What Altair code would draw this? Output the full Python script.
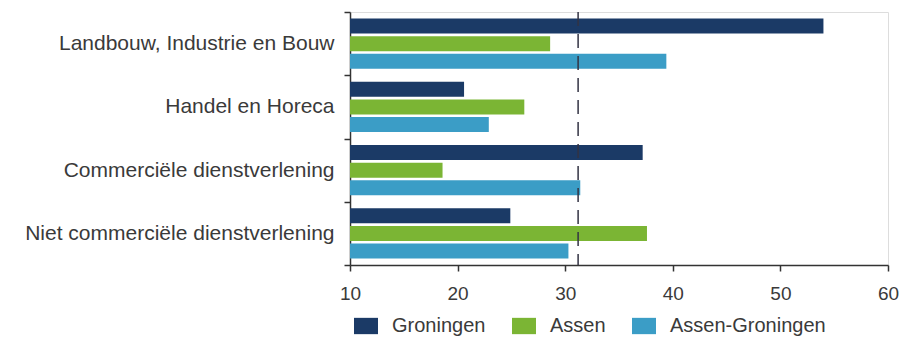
import altair as alt
import pandas as pd

categories = ["Landbouw, Industrie en Bouw", "Handel en Horeca",
              "Commerciële dienstverlening", "Niet commerciële dienstverlening"]
series = ["Groningen", "Assen", "Assen-Groningen"]
groningen = [54.0, 20.6, 37.2, 24.9]
assen = [28.6, 26.2, 18.6, 37.6]
assen_groningen = [39.4, 22.9, 31.4, 30.3]
reference_value = 31.2
colors = ["#1b3a66", "#7bb534", "#3b9dc6"]

rows = []
for i, c in enumerate(categories):
    for s, vals in zip(series, [groningen, assen, assen_groningen]):
        rows.append({"category": c, "series": s, "value": vals[i], "base": 10})
df = pd.DataFrame(rows)

font = "Liberation Sans"
txt = "#3a3a3a"

bars = alt.Chart(df).mark_bar(size=15).encode(
    y=alt.Y("category:N", sort=categories, title=None,
            scale=alt.Scale(paddingInner=0, paddingOuter=0),
            axis=alt.Axis(tickBand="extent", labelFontSize=21, labelFont=font, labelLimit=0,
                          labelColor=txt, domainColor="#333333", tickColor="#333333",
                          tickSize=6, labelPadding=10, domainWidth=1.5, tickWidth=1.5)),
    yOffset=alt.YOffset("series:N", sort=series,
                        scale=alt.Scale(paddingInner=0.14, paddingOuter=0.37)),
    x=alt.X("value:Q", title=None,
            scale=alt.Scale(domain=[10, 60], zero=False, nice=False),
            axis=alt.Axis(values=[10, 20, 30, 40, 50, 60], grid=False, labelFontSize=19,
                          labelFont=font, labelColor=txt, domainColor="#333333",
                          tickColor="#333333", tickSize=6, labelPadding=13,
                          labelFlush=False,
                          domainWidth=1.5, tickWidth=1.5)),
    x2="base:Q",
    color=alt.Color("series:N", sort=series,
                    scale=alt.Scale(domain=series, range=colors),
                    legend=alt.Legend(title=None, orient="none", legendX=4, legendY=302,
                                      direction="horizontal",
                                      symbolType="M-1,-0.68H1V0.68H-1Z",
                                      symbolSize=576, symbolStrokeWidth=0,
                                      labelFontSize=20, labelFont=font, labelColor=txt,
                                      labelOffset=14, columnPadding=26)),
)

rule = alt.Chart(pd.DataFrame({"v": [reference_value]})).mark_rule(
    color="#333344", strokeDash=[14, 8], strokeWidth=1.5
).encode(x="v:Q")

chart = alt.layer(bars, rule).properties(
    width=538, height=253,
    autosize=alt.AutoSizeParams(type="none"),
    padding={"left": 342, "top": 4, "right": 19, "bottom": 74},
).configure_view(stroke=None).configure(background="white")

chart.save("out.html", embed_options={"renderer": "svg", "actions": False})
